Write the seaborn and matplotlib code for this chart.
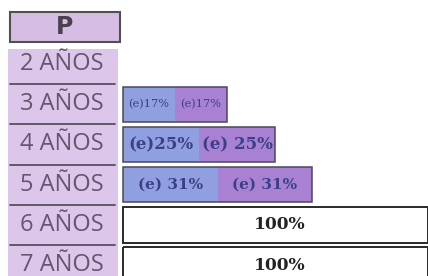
import numpy as np
import pandas as pd
import matplotlib
matplotlib.use("Agg")
import matplotlib.pyplot as plt
from matplotlib.patches import Rectangle
import seaborn as sns

# datos de la tabla (P = primaria/preescolar)
edades = ["2 AÑOS", "3 AÑOS", "4 AÑOS", "5 AÑOS", "6 AÑOS", "7 AÑOS"]
parte_azul = [np.nan, 17, 25, 31, np.nan, np.nan]
parte_morada = [np.nan, 17, 25, 31, np.nan, np.nan]
completo = [np.nan, np.nan, np.nan, np.nan, 100, 100]
etiqueta_azul = ["", "(e)17%", "(e)25%", "(e) 31%", "", ""]
etiqueta_morada = ["", "(e)17%", "(e) 25%", "(e) 31%", "", ""]
etiqueta_completo = ["", "", "", "", "100%", "100%"]
titulo = "P"

AZUL = "#909fe0"
MORADO = "#a881d2"
LILA = "#dcc6ea"
BORDE = "#4a4858"

sns.set_style("white")
plt.rcParams["font.family"] = ["DejaVu Sans"]

df = pd.DataFrame({"edad": edades, "azul": parte_azul, "morada": parte_morada,
                   "completo": completo})
df["total"] = df["azul"] + df["morada"]

fig = plt.figure(figsize=(4.28, 2.76), dpi=100)
ax = fig.add_axes([0, 0, 1, 1])

ancho = 0.88
# barras apiladas: total morado, parte azul encima, contorno al final
sns.barplot(data=df, x="total", y="edad", order=edades, orient="h", color=MORADO,
            width=ancho, linewidth=0, saturation=1, ax=ax)
sns.barplot(data=df, x="azul", y="edad", order=edades, orient="h", color=AZUL,
            width=ancho, linewidth=0, saturation=1, ax=ax)
sns.barplot(data=df, x="total", y="edad", order=edades, orient="h", color=BORDE,
            width=ancho, fill=False, linewidth=1.1, ax=ax)
sns.barplot(data=df, x="completo", y="edad", order=edades, orient="h", color="#2a2a2a",
            width=ancho, fill=False, linewidth=1.4, ax=ax)

ax.set_xlim(-40.3, 100)
ax.set_ylim(5.27, -1.59)
ax.axis("off")

# columna de edades
ax.add_patch(Rectangle((-37.7, -0.37), 36.1, 6.0, facecolor=LILA, edgecolor="none", zorder=0))
for i in range(len(edades) - 1):
    ax.plot([-37.0, -2.6], [i + 0.5, i + 0.5], color="#5a5060", lw=1.3, zorder=1)
for i, e in enumerate(edades):
    ax.text(-20, i, e, ha="center", va="center", fontsize=17, color="#65566e",
            family="Open Sans")

# encabezado
ax.add_patch(Rectangle((-37.0, -1.29), 36.0, 0.74, facecolor="#d6bde4",
                       edgecolor="#505050", lw=1.5, zorder=2))
ax.text(-19, -0.92, titulo, ha="center", va="center", fontsize=17, fontweight="bold",
        color="#4a4050", zorder=3)

# etiquetas de las barras
tamanos = [0, 8.2, 12, 11, 0, 0]
for i in range(len(edades)):
    if not np.isnan(parte_azul[i]):
        a = parte_azul[i]
        m = parte_morada[i]
        ax.text(a / 2, i, etiqueta_azul[i], ha="center", va="center", color="#3b3f8a",
                fontsize=tamanos[i], family="DejaVu Serif",
                fontweight="bold" if i > 1 else "normal")
        ax.text(a + m / 2, i, etiqueta_morada[i], ha="center", va="center", color="#3b3f8a",
                fontsize=tamanos[i], family="DejaVu Serif",
                fontweight="bold" if i > 1 else "normal")
    if not np.isnan(completo[i]):
        ax.text(completo[i] * 0.515, i, etiqueta_completo[i], ha="center", va="center",
                color="#222222", fontsize=12.3, family="DejaVu Serif", fontweight="bold")

fig.savefig("out.png", dpi=100)
